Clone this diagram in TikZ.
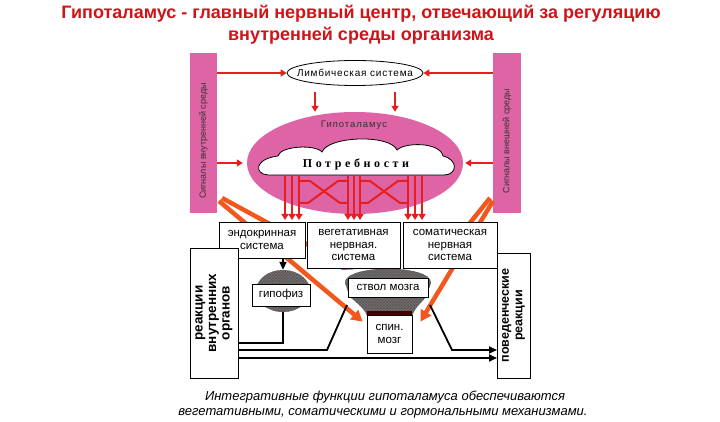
\documentclass[tikz,border=0pt]{standalone}
\usepackage{fontspec}
\setmainfont{Liberation Sans}
\newfontfamily\serifb{Liberation Serif}
\usetikzlibrary{arrows.meta,shapes.geometric,patterns}
\definecolor{pinkc}{RGB}{222,100,165}
\definecolor{redc}{RGB}{232,30,30}
\definecolor{orangec}{RGB}{242,88,30}
\definecolor{titlec}{RGB}{205,20,25}
\definecolor{hatchc}{RGB}{120,110,110}
\tikzset{
  boxnode/.style={draw=black, line width=0.8pt, fill=white, inner sep=0pt, align=center, font=\fontsize{11.5}{12.5}\selectfont},
  barnode/.style={fill=pinkc, inner sep=0pt, align=center, font=\fontsize{9}{10}\selectfont, text=black!80},
  redarrow/.style={draw=redc, line width=2pt, -{Triangle[length=6pt,width=7pt]}},
  rednet/.style={draw=redc, line width=2pt},
  orangearrow/.style={draw=orangec, line width=4.5pt, -{Triangle[length=11pt,width=12pt]}},
  blackline/.style={draw=black, line width=1.8pt},
  blackarrow/.style={blackline, -{Triangle[length=8pt,width=7pt]}},
  hatched/.style={preaction={fill=hatchc}, pattern=crosshatch, pattern color=black!65},
  titletext/.style={text=titlec, font=\bfseries\fontsize{18}{20}\selectfont, inner sep=0pt},
  captext/.style={font=\itshape\fontsize{13}{15}\selectfont, inner sep=0pt},
  sidetext/.style={font=\bfseries\fontsize{12.5}{13.5}\selectfont}
}
\begin{document}
\begin{tikzpicture}[x=1pt,y={(0pt,-1pt)}]
\useasboundingbox (0,0) rectangle (720,422);
\fill[white] (0,0) rectangle (720,422);

% title
\node[titletext] (t1) at (361,14) {Гипоталамус - главный нервный центр, отвечающий за регуляцию};
\node[titletext] (t2) at (361,36) {внутренней среды организма};

% pink bars
\node[barnode, minimum width=160pt, minimum height=27pt, rotate=90] (lbar) at (203.5,133) {Сигналы внутренней среды\hspace*{16pt}};
\node[barnode, minimum width=160pt, minimum height=28pt, rotate=90] (rbar) at (507,133) {Сигналы внешней среды\hspace*{16pt}};

% hypothalamus
\node[ellipse, fill=pinkc, minimum width=216pt, minimum height=102pt, inner sep=0pt] (hypo) at (355,163) {};
\node[inner sep=0pt, font=\fontsize{9.5}{10}\selectfont\addfontfeature{LetterSpace=10}, text=black!80] (hlab) at (354,125) {Гипоталамус};

% limbic system
\node[ellipse, draw=black, line width=0.8pt, fill=white, minimum width=136pt, minimum height=25pt, inner xsep=-10pt, inner ysep=0pt, font=\fontsize{10}{11}\selectfont\addfontfeature{LetterSpace=8}] (limb) at (355,73) {Лимбическая система};
\draw[redarrow] (limb.west -| lbar.south) -- (limb.west);
\draw[redarrow] (limb.east -| rbar.north) -- (limb.east);
\draw[redarrow] ([xshift=-40pt,yshift=-6pt]limb.south) -- ([xshift=-40pt]hypo.north);
\draw[redarrow] ([xshift=40pt,yshift=-6pt]limb.south) -- ([xshift=40pt]hypo.north);
\draw[redarrow] (hypo.west -| lbar.south) -- ([xshift=-4pt]hypo.west);
\draw[redarrow] (hypo.east -| rbar.north) -- ([xshift=2pt]hypo.east);

% red network
\foreach \xx in {285,292,299,348,354,360,408,415,422}
  \draw[redarrow] (\xx,176) -- (\xx,220);
\draw[rednet] (299,181) -- (310,181) -- (340,203) -- (348,203);
\draw[rednet] (348,181) -- (338,181) -- (308,203) -- (299,203);
\draw[rednet] (360,181) -- (370,181) -- (400,203) -- (408,203);
\draw[rednet] (408,181) -- (398,181) -- (368,203) -- (360,203);

% cloud
\draw[fill=white, line width=0.8pt] (268,175) .. controls (254,174) and (254,159) .. (278,156)
  .. controls (280,146) and (315,144) .. (322,152)
  .. controls (328,136) and (390,134) .. (397,150)
  .. controls (405,142) and (440,142) .. (443,156)
  .. controls (459,160) and (457,175) .. (444,175) -- cycle;
\node[inner sep=0pt, font=\serifb\bfseries\fontsize{12}{13}\selectfont\addfontfeature{LetterSpace=30}] (need) at (356,164) {Потребности};

% stem / spinal cord shapes
\path[hatched] (345,283) .. controls (344,264) and (432,264) .. (431,283) -- (426,297)
  .. controls (420,304) and (414,309) .. (412,316) -- (367,316)
  .. controls (365,309) and (357,303) .. (350,297) -- cycle;
\fill[black!75!red] (367,311) rectangle (412,317);
\node[boxnode, minimum width=80pt, minimum height=19pt] (stem) at (388,287.5) {ствол мозга};
\node[boxnode, minimum width=45pt, minimum height=38pt] (spin) at (389.5,334) {спин.\\мозг};

% orange arrows
\coordinate (ol) at (222,198);
\coordinate (ol2) at (219,201);
\coordinate (or) at (490,198);
\coordinate (or2) at (493,201);
\draw[orangearrow] (ol) -- ([xshift=6pt,yshift=8pt]stem.north west);
\draw[orangearrow] (ol2) -- ([xshift=-4pt,yshift=-7pt]spin.north west);
\draw[orangearrow] (or) -- ([xshift=4pt,yshift=8pt]stem.north east);
\draw[orangearrow] (or2) -- ([xshift=8pt,yshift=-7pt]spin.north east);

% system boxes
\node[boxnode, minimum width=86pt, minimum height=36pt] (endo) at (262,240) {эндокринная\\система};
\node[boxnode, minimum width=93pt, minimum height=46pt] (veg) at (353.5,245) {вегетативная\\нервная.\\система};
\node[boxnode, minimum width=94pt, minimum height=46pt] (som) at (450,245) {соматическая\\нервная\\система};

% hypophysis
\node[ellipse, hatched, minimum width=54pt, minimum height=42pt, inner sep=0pt] (hyp) at (283,291) {};
\node[boxnode, minimum width=58pt, minimum height=22pt] (hyplab) at (281,295) {гипофиз};
\draw[blackarrow] (endo.south -| hyp.north) -- (hyp.north);

% side boxes
\node[boxnode, font=\bfseries\fontsize{13.5}{13.5}\selectfont, minimum width=130pt, minimum height=48pt, rotate=90] (lbox) at (214,313) {реакции\\внутренних\\органов};
\node[boxnode, sidetext, minimum width=125pt, minimum height=33pt, rotate=90] (rbox) at (513.5,315.5) {поведенческие\\реакции};

% black connectors
\coordinate (l1) at (238,343);
\coordinate (l2) at (238,350);
\coordinate (l3) at (238,358);
\coordinate (r2) at (497,350);
\coordinate (r3) at (497,358);
\draw[blackline] (hyp.south) |- (l1);
\draw[blackline] (l2) -- (327,350) -- (347,305);
\draw[blackarrow] (430,305) -- (452,350) -- (r2);
\draw[blackarrow] (l3) -- (r3);

% caption
\node[captext] (c1) at (385,397) {Интегративные функции гипоталамуса обеспечиваются};
\node[captext] (c2) at (383,413) {вегетативными, соматическими и гормональными механизмами.};
\end{tikzpicture}
\end{document}
